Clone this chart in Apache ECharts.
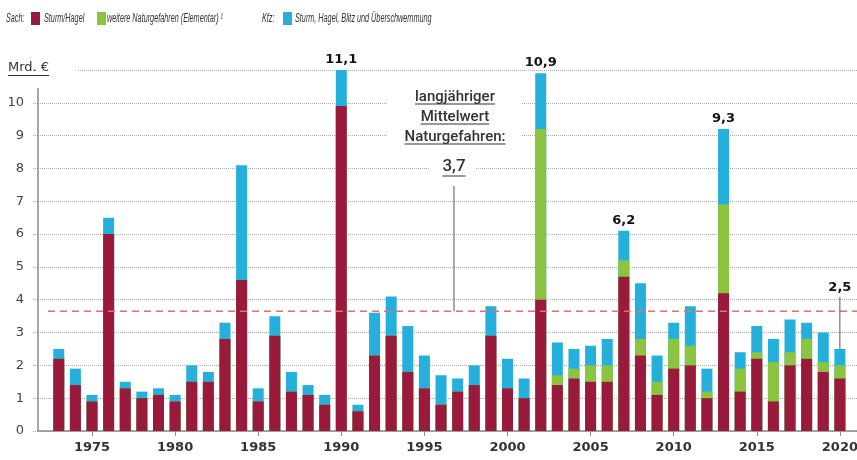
<!DOCTYPE html>
<html><head><meta charset="utf-8">
<script src="https://cdn.jsdelivr.net/npm/echarts@6/dist/echarts.min.js"></script>
<style>html,body{margin:0;padding:0;background:#fff}#c{width:857px;height:460px}</style>
</head><body><div id="c"></div>
<script>
// ---- data ----
const years = [1973,1974,1975,1976,1977,1978,1979,1980,1981,1982,1983,1984,1985,1986,1987,1988,1989,1990,1991,1992,1993,1994,1995,1996,1997,1998,1999,2000,2001,2002,2003,2004,2005,2006,2007,2008,2009,2010,2011,2012,2013,2014,2015,2016,2017,2018,2019,2020];
const sturmHagel = [2.2,1.4,0.9,6.0,1.3,1.0,1.1,0.9,1.5,1.5, 2.8,4.6,0.9,2.9,1.2,1.1,0.8,9.9,0.6,2.3, 2.9,1.8,1.3,0.8,1.2,1.4,2.9,1.3,1.0,4.0, 1.4,1.6,1.5,1.5,4.7,2.3,1.1,1.9,2.0,1.0, 4.2,1.2,2.2,0.9,2.0,2.2,1.8,1.6];
const elementar = [0,0,0,0,0,0,0,0,0,0, 0,0,0,0,0,0,0,0,0,0, 0,0,0,0,0,0,0,0,0,5.2, 0.3,0.3,0.5,0.5,0.5,0.5,0.4,0.9,0.6,0.2, 2.7,0.7,0.2,1.2,0.4,0.6,0.3,0.4];
const kfz = [0.3,0.5,0.2,0.5,0.2,0.2,0.2,0.2,0.5,0.3, 0.5,3.5,0.4,0.6,0.6,0.3,0.3,1.2,0.2,1.3, 1.2,1.4,1.0,0.9,0.4,0.6,0.9,0.9,0.6,1.7, 1.0,0.6,0.6,0.8,0.9,1.7,0.8,0.5,1.2,0.7, 2.3,0.5,0.8,0.7,1.0,0.5,0.9,0.5];
const xTickLabels = [1975,1980,1985,1990,1995,2000,2005,2010,2015,2020];
const peakLabels = {1990:'11,1', 2002:'10,9', 2007:'6,2', 2013:'9,3'};
const lastYear = 2020, lastLabel = '2,5';
const meanValue = 3.65, meanLabel = '3,7';
const meanTextLines = ['langjähriger','Mittelwert','Naturgefahren:'];
const seriesNames = ['Sturm/Hagel','weitere Naturgefahren (Elementar) ¹','Sturm, Hagel, Blitz und Überschwemmung'];
const groupLabels = ['Sach:','Kfz:'];

// ---- build ----
const r2 = v => Math.round(v*100)/100;
const cumRed = years.map((y,i)=>[y, r2(sturmHagel[i])]);
const cumGreen = years.map((y,i)=>[y, r2(sturmHagel[i]+elementar[i])]);
const cumTotal = years.map((y,i)=>[y, r2(sturmHagel[i]+elementar[i]+kfz[i])]);

const RED='#9a1a3b', GREEN='#8cc43f', CYAN='#25b0dc';
const X_MIN = 1971.75, X_MAX = 2021.03;
const chart = echarts.init(document.getElementById('c'));
const barW = 11;
chart.setOption({
  animation:false,
  grid:{left:38, right:0, top:70, bottom:29, outerBoundsMode:'none', containLabel:false},
  xAxis:{type:'value', min:X_MIN, max:X_MAX,
    axisLine:{show:true, onZero:false, lineStyle:{color:'#8a8a8a', width:1.5}},
    axisTick:{show:true, customValues:xTickLabels, length:5, lineStyle:{color:'#8a8a8a'}},
    axisLabel:{customValues:xTickLabels, formatter:v=>String(v), margin:10, fontFamily:'DejaVu Sans', fontWeight:'bold', fontSize:13, color:'#333'},
    splitLine:{show:false}},
  yAxis:{type:'value', min:0, max:11, interval:1,
    axisLine:{show:false},
    axisTick:{show:true, length:6, lineStyle:{color:'#aaa', type:'dotted'}},
    axisLabel:{formatter:v=> v===11?'':String(v), margin:14, fontFamily:'DejaVu Sans', fontSize:13, color:'#444'},
    splitLine:{lineStyle:{type:'dotted', color:'#aaa'}}},
  series:[
    {name:seriesNames[2], type:'bar', data:cumTotal, barWidth:barW, barGap:'-100%', itemStyle:{color:CYAN},
      label:{show:true, position:'top', distance:4, formatter:p=>peakLabels[p.value[0]]||'', fontFamily:'DejaVu Sans', fontWeight:'bold', fontSize:13, color:'#111'}},
    {name:seriesNames[1], type:'bar', data:cumGreen, barWidth:barW, barGap:'-100%', itemStyle:{color:GREEN}},
    {name:seriesNames[0], type:'bar', data:cumRed, barWidth:barW, barGap:'-100%', itemStyle:{color:RED}}
  ]
});

// ---- annotations ----
const ctx = document.createElement('canvas').getContext('2d');
const measure = (t,font)=>{ctx.font=font; return ctx.measureText(t).width;};
const px = (x,y)=>chart.convertToPixel({gridIndex:0},[x,y]);
const g = [];
// legend (condensed italic look)
const lgFont = 'italic 12.5px "Liberation Sans"';
const lgScale = 116 / measure(seriesNames[1], lgFont);
const lgY = 19;
const lgText = (t,x)=>({type:'text', z:10, x:x, y:lgY, scaleX:lgScale, style:{text:t, x:0, y:0, verticalAlign:'middle', font:lgFont, fill:'#333'}});
const lgRect = (x,c)=>({type:'rect', z:10, shape:{x:x, y:12, width:9, height:13}, style:{fill:c}});
g.push(lgText(groupLabels[0], 6));
g.push(lgRect(31, RED)); g.push(lgText(seriesNames[0], 44));
g.push(lgRect(97, GREEN)); g.push(lgText(seriesNames[1], 107));
g.push(lgText(groupLabels[1], 262));
g.push(lgRect(283, CYAN)); g.push(lgText(seriesNames[2], 295));
// y axis line
const a0 = px(X_MIN,0), a1 = px(X_MIN,10.45);
const gridRight = chart.getWidth();
g.push({type:'line', z:5, shape:{x1:a0[0],y1:a0[1],x2:a1[0],y2:a1[1]}, style:{stroke:'#8a8a8a', lineWidth:1.5}});
// mean reference line (dashed)
const pmL = px(1972.35, meanValue);
g.push({type:'line', z:4, shape:{x1:pmL[0],y1:pmL[1],x2:gridRight,y2:pmL[1]}, style:{stroke:'#e0716b', lineWidth:1.5, lineDash:[7,5]}});
// unit label
const unitFont = '13px "DejaVu Sans"';
const y11 = px(X_MIN,11)[1];
g.push({type:'rect', z:1, shape:{x:a0[0]-1, y:y11-4, width:40, height:8}, style:{fill:'#fff'}});
g.push({type:'text', z:10, style:{text:'Mrd. €', x:8, y:y11-2, verticalAlign:'middle', font:unitFont, fill:'#333'}});
g.push({type:'line', z:10, shape:{x1:8,y1:y11+5.5,x2:8+measure('Mrd. €',unitFont),y2:y11+5.5}, style:{stroke:'#333', lineWidth:1}});
// mean annotation block
const mFont = '500 15px Roboto';
const cx = 455;
g.push({type:'rect', z:1, shape:{x:387, y:86, width:134, height:62}, style:{fill:'#fff'}});
g.push({type:'rect', z:1, shape:{x:430, y:156, width:46, height:24}, style:{fill:'#fff'}});
const lineYs = [97,117,137];
meanTextLines.forEach((t,i)=>{
  g.push({type:'text', z:10, style:{text:t, x:cx, y:lineYs[i], align:'center', verticalAlign:'middle', font:mFont, fill:'#333'}});
  const w = measure(t,mFont);
  g.push({type:'line', z:10, shape:{x1:cx-w/2,y1:lineYs[i]+7,x2:cx+w/2,y2:lineYs[i]+7}, style:{stroke:'#333', lineWidth:1}});
});
g.push({type:'text', z:10, style:{text:meanLabel, x:cx-1, y:167, align:'center', verticalAlign:'middle', font:'500 17px Roboto', fill:'#333'}});
const w37 = measure(meanLabel,'500 17px Roboto');
g.push({type:'line', z:10, shape:{x1:cx-1-w37/2,y1:176,x2:cx-1+w37/2,y2:176}, style:{stroke:'#333', lineWidth:1}});
const pm = px(1996.78, meanValue);
g.push({type:'line', z:10, shape:{x1:pm[0],y1:186,x2:pm[0],y2:pm[1]}, style:{stroke:'#555', lineWidth:1}});
// last year label
const li = years.indexOf(lastYear);
const pl = px(lastYear, cumTotal[li][1]);
g.push({type:'text', z:10, style:{text:lastLabel, x:pl[0], y:pl[1]-61, align:'center', verticalAlign:'middle', font:'bold 13px "DejaVu Sans"', fill:'#111'}});
g.push({type:'line', z:10, shape:{x1:pl[0],y1:pl[1]-52,x2:pl[0],y2:pl[1]}, style:{stroke:'#555', lineWidth:1}});
chart.setOption({graphic:g});
</script>
</body></html>
